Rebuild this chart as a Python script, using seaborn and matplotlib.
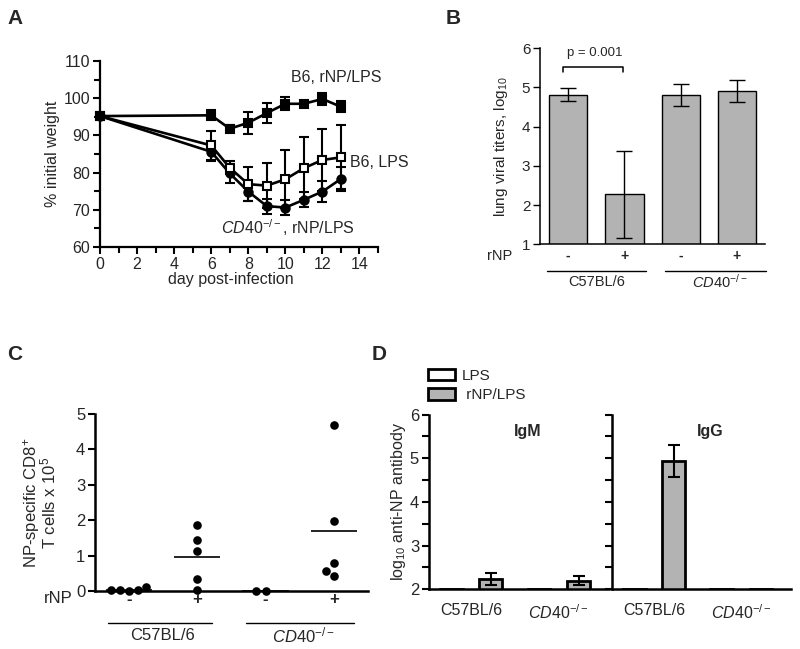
import numpy as np
import pandas as pd
import matplotlib
matplotlib.use("Agg")
import matplotlib.pyplot as plt
import matplotlib.transforms as mtransforms
from matplotlib.patches import Patch
from matplotlib.ticker import MultipleLocator
import seaborn as sns

sns.set_theme(style="ticks")
plt.rcParams['font.family'] = ['Liberation Sans', 'DejaVu Sans']
plt.rcParams['mathtext.fontset'] = 'custom'
plt.rcParams['mathtext.rm'] = 'Liberation Sans'
plt.rcParams['mathtext.it'] = 'Liberation Sans:italic'
plt.rcParams['mathtext.bf'] = 'Liberation Sans:bold'

# ---------------- Panel A data ----------------
days = [0, 6, 7, 8, 9, 10, 11, 12, 13]
b6_rnp_lps = [95.2, 95.4, 91.8, 93.4, 96.0, 98.5, 98.5, 99.8, 97.7]
b6_rnp_lps_err = [0, 1.3, 1.0, 2.9, 2.7, 1.7, 0.4, 1.7, 1.5]
b6_lps = [95.2, 87.3, 81.3, 76.9, 76.5, 78.2, 81.2, 83.4, 84.1]
b6_lps_err = [0, 3.8, 1.8, 4.5, 6.0, 7.8, 8.4, 8.3, 8.6]
cd40_rnp_lps = [95.2, 85.6, 79.8, 74.9, 71.0, 70.6, 72.7, 74.9, 78.3]
cd40_rnp_lps_err = [0, 2.5, 2.5, 2.6, 2.0, 2.0, 2.0, 2.8, 3.3]

# ---------------- Panel B data ----------------
b_groups = ["C57BL/6 -", "C57BL/6 +", "CD40 -", "CD40 +"]
b_rnp = ["-", "+", "-", "+"]
b_titers = [4.82, 2.28, 4.80, 4.90]
b_err = [0.17, 1.11, 0.28, 0.28]

# ---------------- Panel C data ----------------
c_groups = ["C57BL/6 -", "C57BL/6 +", "CD40 -", "CD40 +"]
c_rnp = ["-", "+", "-", "+"]
c_b6_neg = [0.02, 0.12, 0.0, 0.04, 0.02]
c_b6_pos = [1.44, 1.85, 1.14, 0.33, 0.02]
c_cd40_neg = [0.0, 0.0]
c_cd40_pos = [4.69, 1.98, 0.79, 0.56, 0.42]

# ---------------- Panel D data ----------------
d_strains = ["C57BL/6", "CD40"]
d_treatments = ["LPS", "rNP/LPS"]
d_igm_lps = [2.0, 2.0]
d_igm_rnp = [2.23, 2.20]
d_igm_rnp_err = [0.14, 0.11]
d_igg_lps = [2.0, 2.0]
d_igg_rnp = [4.93, 2.0]
d_igg_rnp_err = [0.37, 0.0]

GRAY = "#b3b3b3"
CD40_TXT = r"$\mathit{CD40}^{\mathit{-/-}}$"

fig = plt.figure(figsize=(8, 6.49), dpi=100)
axA = fig.add_axes([0.125, 0.6194, 0.3475, 0.2866])
axB = fig.add_axes([0.675, 0.6236, 0.28125, 0.302])
axC = fig.add_axes([0.11875, 0.0894, 0.341, 0.2727])
axD1 = fig.add_axes([0.536, 0.092, 0.225, 0.2693])
axD2 = fig.add_axes([0.765, 0.092, 0.224, 0.2693])

# ================= Panel A =================
seriesA = [
    (cd40_rnp_lps, cd40_rnp_lps_err, "o", "black", 6.0),
    (b6_lps, b6_lps_err, "s", "white", 5.6),
    (b6_rnp_lps, b6_rnp_lps_err, "s", "black", 5.2),
]
for vals, err, mk, mfc, ms in seriesA:
    axA.errorbar(days[1:], vals[1:], yerr=err[1:], fmt="none", ecolor="black",
                 elinewidth=1.5, capsize=3.8, capthick=1.5, zorder=2, clip_on=False)
    sns.lineplot(x=days, y=vals, ax=axA, color="black", lw=1.9, marker=mk,
                 markersize=ms, markerfacecolor=mfc, markeredgecolor="black",
                 markeredgewidth=1.5, zorder=3, clip_on=False)
axA.set_xlim(0, 15)
axA.set_ylim(60, 110)
axA.xaxis.set_major_locator(MultipleLocator(2))
axA.xaxis.set_minor_locator(MultipleLocator(1))
axA.yaxis.set_major_locator(MultipleLocator(10))
axA.yaxis.set_minor_locator(MultipleLocator(5))
for s in ["top", "right"]:
    axA.spines[s].set_visible(False)
for s in ["left", "bottom"]:
    axA.spines[s].set_linewidth(1.6)
    axA.spines[s].set_color("black")
axA.tick_params(which="major", direction="out", length=5, width=1.5, labelsize=11.5, color="black", pad=2)
axA.tick_params(which="minor", direction="out", length=4, width=1.5, color="black")
axA.set_xlabel("day post-infection", fontsize=11.5, labelpad=0)
axA.set_ylabel("% initial weight", fontsize=11.5)
axA.yaxis.set_label_coords(-0.145, 0.5)
axA.xaxis.set_label_coords(0.47, -0.135)
axA.text(10.3, 105.6, "B6, rNP/LPS", fontsize=11.5, va="center", ha="left")
axA.text(13.5, 82.8, "B6, LPS", fontsize=11.5, va="center", ha="left", clip_on=False)
axA.text(6.55, 65.3, CD40_TXT + ", rNP/LPS", fontsize=11.5, va="center", ha="left")

# ================= Panel B =================
dfB = pd.DataFrame({"group": b_groups, "titer": b_titers})
sns.barplot(data=dfB, x="group", y="titer", order=b_groups, color=GRAY, saturation=1,
            edgecolor="black", linewidth=1, width=0.68, errorbar=None, ax=axB)
axB.errorbar(range(len(b_groups)), b_titers, yerr=b_err, fmt="none", ecolor="black",
             elinewidth=1, capsize=5.8, capthick=1, zorder=3)
axB.set_ylim(1, 6)
axB.set_xlim(-0.5, 3.5)
axB.yaxis.set_major_locator(MultipleLocator(1))
for s in ["top", "right"]:
    axB.spines[s].set_visible(False)
for s in ["left", "bottom"]:
    axB.spines[s].set_linewidth(1.1)
    axB.spines[s].set_color("black")
axB.set_xticks([])
axB.set_xlabel("")
axB.tick_params(axis="y", direction="out", length=5, width=1, labelsize=11, color="black", pad=2)
axB.set_ylabel(r"lung viral titers, log$_{10}$", fontsize=11)
axB.yaxis.set_label_coords(-0.135, 0.5)
# significance bracket
axB.plot([-0.1, -0.1, 0.98, 0.98], [5.4, 5.52, 5.52, 5.4], color="black", lw=1.1)
axB.text(0.48, 5.89, "p = 0.001", fontsize=9.5, ha="center", va="center")
trB = mtransforms.blended_transform_factory(axB.transData, axB.transAxes)
axB.text(-0.178, -0.06, "rNP", transform=axB.transAxes, fontsize=10.5, ha="center", va="center")
for i, lab in enumerate(b_rnp):
    axB.text(i, -0.06, lab, transform=trB, fontsize=10, ha="center", va="center",
             fontweight="bold")
axB.plot([-0.38, 1.38], [-0.135, -0.135], transform=trB, color="black", lw=1, clip_on=False)
axB.plot([1.73, 3.51], [-0.135, -0.135], transform=trB, color="black", lw=1, clip_on=False)
axB.text(0.5, -0.19, "C57BL/6", transform=trB, fontsize=10.5, ha="center", va="center")
axB.text(2.7, -0.19, CD40_TXT, transform=trB, fontsize=10.5, ha="center", va="center")

# ================= Panel C =================
c_vals = [c_b6_neg, c_b6_pos, c_cd40_neg, c_cd40_pos]
dfC = pd.DataFrame({
    "group": np.repeat(c_groups, [len(v) for v in c_vals]),
    "cells": np.concatenate(c_vals),
})
sns.swarmplot(data=dfC, x="group", y="cells", order=c_groups, color="black", size=6.2,
              ax=axC, clip_on=False, zorder=3)
for i, v in enumerate(c_vals):
    axC.hlines(np.mean(v), i - 0.34, i + 0.34, color="black", lw=1.2, zorder=2)
axC.set_ylim(0, 5)
axC.set_xlim(-0.5, 3.5)
axC.yaxis.set_major_locator(MultipleLocator(1))
for s in ["top", "right"]:
    axC.spines[s].set_visible(False)
for s in ["left", "bottom"]:
    axC.spines[s].set_linewidth(1.8)
    axC.spines[s].set_color("black")
axC.set_xticks([])
axC.set_xlabel("")
axC.tick_params(axis="y", direction="out", length=5, width=1.5, labelsize=12, color="black", pad=2)
axC.set_ylabel("NP-specific CD8$^{+}$\nT cells x 10$^{5}$", fontsize=12, linespacing=0.8)
axC.yaxis.set_label_coords(-0.135, 0.5)
trC = mtransforms.blended_transform_factory(axC.transData, axC.transAxes)
axC.text(-0.135, -0.045, "rNP", transform=axC.transAxes, fontsize=12, ha="center", va="center")
for i, lab in enumerate(c_rnp):
    axC.text(i, -0.05, lab, transform=trC, fontsize=12, ha="center", va="center",
             fontweight="bold")
axC.plot([-0.31, 1.21], [-0.18, -0.18], transform=trC, color="black", lw=1, clip_on=False)
axC.plot([1.71, 3.3], [-0.18, -0.18], transform=trC, color="black", lw=1, clip_on=False)
axC.text(0.49, -0.25, "C57BL/6", transform=trC, fontsize=12, ha="center", va="center")
axC.text(2.55, -0.25, CD40_TXT, transform=trC, fontsize=12, ha="center", va="center")

# ================= Panel D =================
rowsD = []
for iso, lps, rnp, err in [("IgM", d_igm_lps, d_igm_rnp, d_igm_rnp_err),
                           ("IgG", d_igg_lps, d_igg_rnp, d_igg_rnp_err)]:
    for k, st in enumerate(d_strains):
        rowsD.append((iso, st, "LPS", lps[k], 0.0))
        rowsD.append((iso, st, "rNP/LPS", rnp[k], err[k]))
dfD = pd.DataFrame(rowsD, columns=["isotype", "strain", "treatment", "log10", "err"])
palD = {"LPS": "white", "rNP/LPS": GRAY}

for ax, iso in [(axD1, "IgM"), (axD2, "IgG")]:
    sub = dfD[dfD.isotype == iso]
    sns.barplot(data=sub, x="strain", y="log10", hue="treatment", order=d_strains,
                hue_order=d_treatments, palette=palD, saturation=1, edgecolor="black",
                linewidth=2, width=0.9, gap=0.42, errorbar=None, legend=False, ax=ax)
    for bar in ax.patches:
        cx = bar.get_x() + bar.get_width() / 2
        si = int(round(cx))
        tr = d_treatments[0] if cx < si else d_treatments[1]
        row = sub[(sub.strain == d_strains[si]) & (sub.treatment == tr)].iloc[0]
        if row.err > 0:
            ax.errorbar(cx, row.log10, yerr=row.err, fmt="none", ecolor="black",
                        elinewidth=1.5, capsize=4.4, capthick=1.5, zorder=3)
    ax.set_ylim(2, 6)
    ax.set_xlim(-0.48, 1.57)
    ax.yaxis.set_major_locator(MultipleLocator(1))
    ax.yaxis.set_minor_locator(MultipleLocator(0.5))
    for s in ["top", "right"]:
        ax.spines[s].set_visible(False)
    for s in ["left", "bottom"]:
        ax.spines[s].set_linewidth(1.8)
        ax.spines[s].set_color("black")
    ax.tick_params(axis="y", which="both", direction="out", length=5, width=1.5,
                   labelsize=12, color="black", pad=2)
    ax.tick_params(axis="x", length=0, labelsize=11.5, pad=10)
    ax.set_xticks(range(len(d_strains)))
    ax.set_xticklabels(["C57BL/6", CD40_TXT])
    ax.set_xlabel("")
    ax.set_ylabel("")
    ax.text(0.55, 0.9, iso, transform=ax.transAxes, fontsize=11.5, fontweight="bold",
            ha="center", va="center")
axD2.tick_params(axis="y", which="both", labelleft=False)
axD1.set_ylabel(r"log$_{10}$ anti-NP antibody", fontsize=11.5)
axD1.yaxis.set_label_coords(-0.115, 0.5)

handles = [Patch(facecolor=palD[t], edgecolor="black", linewidth=2) for t in d_treatments]
fig.legend(handles, ["LPS", " rNP/LPS"], loc="upper left",
           bbox_to_anchor=(428 / 800, 1 - 369 / 649), frameon=False, fontsize=11,
           handlelength=1.75, handleheight=0.75, handletextpad=0.45, labelspacing=0.35,
           borderpad=0, borderaxespad=0)

# Panel letters
for lab, x, y in [("A", 7, 19), ("B", 446, 19), ("C", 7, 355), ("D", 372, 355)]:
    fig.text(x / 800, 1 - y / 649, lab, fontsize=15, fontweight="bold", ha="left", va="center")

fig.savefig("out.png", dpi=100)
